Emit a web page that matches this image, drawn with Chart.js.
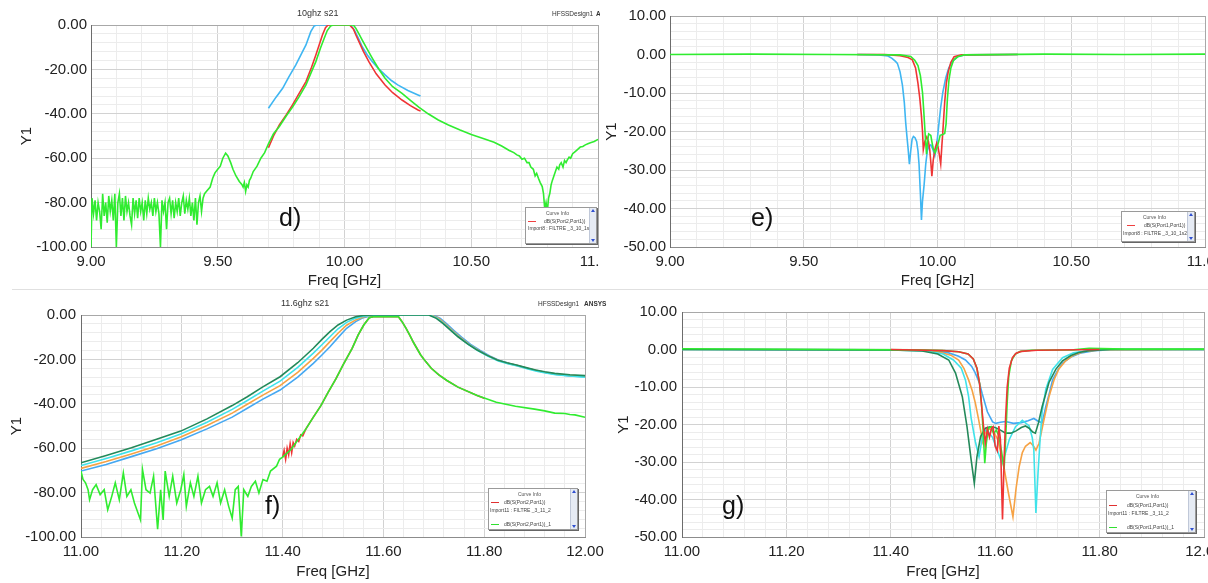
<!DOCTYPE html>
<html><head><meta charset="utf-8">
<script src="https://cdn.jsdelivr.net/npm/chart.js@4.4.1/dist/chart.umd.min.js"></script>
<style>
html,body{margin:0;padding:0;background:#fff;width:1208px;height:583px;overflow:hidden;font-family:"Liberation Sans",Arial,sans-serif;}
.panel{position:absolute;overflow:hidden;}
.panel canvas{position:absolute;left:0;top:0;}
.t{position:absolute;white-space:nowrap;color:#333;}
.lab{position:absolute;font-size:25px;line-height:25px;color:#111;}
.sep{position:absolute;left:12px;top:289px;width:1196px;height:1px;background:#e0e0e0;}
.leg{position:absolute;background:#fff;border:1px solid #9a9a9a;box-shadow:1px 1px 0 #666;}
.leg .tt{position:absolute;left:0;right:7px;text-align:center;font-size:5px;line-height:5px;color:#555;}
.leg .tx{position:absolute;font-size:5px;line-height:5px;color:#444;white-space:nowrap;}
.leg .ln{position:absolute;height:1px;width:8px;}
.leg .sb{position:absolute;right:0;top:0;bottom:0;width:6px;background:#e6ebf4;border-left:1px solid #c0c8d8;}
.sb .a1,.sb .a2{position:absolute;left:1px;width:0;height:0;border-left:2px solid transparent;border-right:2px solid transparent;}
.sb .a1{top:1px;border-bottom:3px solid #3050d0;}
.sb .a2{bottom:1px;border-top:3px solid #3050d0;}
</style></head>
<body>
<div class="sep"></div>
<div class="panel" style="left:0;top:0;width:600px;height:290px;">
  <canvas id="cd" width="600" height="290"></canvas>
  <div class="t" style="left:297px;top:8px;font-size:9px;line-height:10px;">10ghz s21</div>
  <div class="t" style="left:552px;top:10px;font-size:6.5px;line-height:7px;">HFSSDesign1</div>
  <div class="t" style="left:596px;top:10px;font-size:6.5px;line-height:7px;font-weight:bold;">ANSYS</div>
  <div class="lab" style="left:279px;top:205px;">d)</div>
</div>
<div class="panel" style="left:600px;top:0;width:608px;height:290px;">
  <canvas id="ce" width="608" height="290"></canvas>
  <div class="lab" style="left:151px;top:205px;">e)</div>
</div>
<div class="panel" style="left:0;top:290px;width:608px;height:293px;">
  <canvas id="cf" width="608" height="293"></canvas>
  <div class="t" style="left:281px;top:8px;font-size:9px;line-height:10px;">11.6ghz s21</div>
  <div class="t" style="left:538px;top:10px;font-size:6.5px;line-height:7px;">HFSSDesign1</div>
  <div class="t" style="left:584px;top:10px;font-size:6.5px;line-height:7px;font-weight:bold;">ANSYS</div>
  <div class="lab" style="left:265px;top:203px;">f)</div>
</div>
<div class="panel" style="left:600px;top:290px;width:608px;height:293px;">
  <canvas id="cg" width="608" height="293"></canvas>
  <div class="lab" style="left:122px;top:203px;">g)</div>
</div>

<div class="leg" style="left:525px;top:207px;width:70px;height:35px;">
  <div class="tt" style="top:3px;">Curve Info</div>
  <div class="ln" style="left:2px;top:13px;background:#f04040;"></div>
  <div class="tx" style="left:18px;top:11px;">dB(S(Port2,Port1))</div>
  <div class="tx" style="left:2px;top:18px;">Import8 : FILTRE _3_10_1s2p</div>
  <div class="sb"><div class="a1"></div><div class="a2"></div></div>
</div>
<div class="leg" style="left:1121px;top:211px;width:72px;height:29px;">
  <div class="tt" style="top:3px;">Curve Info</div>
  <div class="ln" style="left:5px;top:13px;background:#f04040;"></div>
  <div class="tx" style="left:22px;top:11px;">dB(S(Port1,Port1))</div>
  <div class="tx" style="left:1px;top:19px;">Import8 : FILTRE _3_10_1s2p</div>
  <div class="sb"><div class="a1"></div><div class="a2"></div></div>
</div>
<div class="leg" style="left:488px;top:488px;width:88px;height:40px;">
  <div class="tt" style="top:3px;">Curve Info</div>
  <div class="ln" style="left:2px;top:13px;background:#e03030;"></div>
  <div class="tx" style="left:15px;top:11px;">dB(S(Port2,Port1))</div>
  <div class="tx" style="left:1px;top:19px;">Import11 : FILTRE _3_11_2</div>
  <div class="ln" style="left:2px;top:35px;background:#30e030;"></div>
  <div class="tx" style="left:15px;top:33px;">dB(S(Port2,Port1))_1</div>
  <div class="sb"><div class="a1"></div><div class="a2"></div></div>
</div>
<div class="leg" style="left:1106px;top:490px;width:88px;height:41px;">
  <div class="tt" style="top:3px;">Curve Info</div>
  <div class="ln" style="left:2px;top:14px;background:#e03030;"></div>
  <div class="tx" style="left:20px;top:12px;">dB(S(Port1,Port1))</div>
  <div class="tx" style="left:1px;top:20px;">Import11 : FILTRE _3_11_2</div>
  <div class="ln" style="left:2px;top:36px;background:#30e030;"></div>
  <div class="tx" style="left:20px;top:34px;">dB(S(Port1,Port1))_1</div>
  <div class="sb"><div class="a1"></div><div class="a2"></div></div>
</div>

<script>
// ---------- Panel d: 10 GHz S21 ----------
const dBlue = [[9.70,-37.5],[9.73,-32.5],[9.756,-28.5],[9.78,-23.5],[9.808,-18],[9.83,-13],[9.848,-9],[9.867,-3],[9.88,-0.5],[9.89,0],[10.0,0],[10.024,0],[10.04,-2.5],[10.055,-6],[10.07,-9.8],[10.09,-13.5],[10.11,-16.5],[10.135,-19.8],[10.16,-22.5],[10.185,-25],[10.21,-27],[10.25,-29.5],[10.29,-31.5],[10.30,-32]];
const dRed = [[9.70,-55.3],[9.72,-50],[9.743,-45],[9.77,-40.5],[9.795,-36],[9.82,-31],[9.848,-25.5],[9.87,-19],[9.887,-13.5],[9.90,-9],[9.913,-4.5],[9.925,-1.2],[9.935,0],[10.02,0],[10.035,-1.8],[10.045,-4.5],[10.057,-7.5],[10.075,-12],[10.096,-16.5],[10.125,-22],[10.16,-27],[10.19,-30.5],[10.227,-33.8],[10.26,-36.3],[10.29,-38.3],[10.30,-38.7]];
const dGreenNoise = [[9.000,-100],[9.004,-78],[9.010,-85],[9.016,-79],[9.022,-88],[9.028,-80],[9.034,-84],[9.040,-92],[9.046,-76],[9.052,-86],[9.058,-80],[9.064,-89],[9.070,-77],[9.076,-84],[9.082,-79],[9.088,-88],[9.094,-76],[9.100,-100],[9.106,-80],[9.112,-76],[9.118,-86],[9.124,-78],[9.130,-88],[9.136,-77],[9.142,-84],[9.148,-80],[9.154,-86],[9.160,-90],[9.166,-78],[9.172,-85],[9.178,-79],[9.184,-87],[9.190,-78],[9.196,-84],[9.202,-80],[9.208,-88],[9.214,-79],[9.220,-85],[9.226,-78],[9.232,-83],[9.238,-80],[9.244,-86],[9.250,-78],[9.256,-84],[9.262,-80],[9.268,-85],[9.274,-100],[9.280,-79],[9.286,-84],[9.292,-80],[9.298,-92],[9.304,-80],[9.310,-78],[9.316,-85],[9.322,-79],[9.328,-87],[9.334,-80],[9.340,-84],[9.346,-78],[9.352,-86],[9.358,-80],[9.364,-77],[9.370,-85],[9.376,-79],[9.382,-83],[9.388,-78],[9.394,-86],[9.400,-80],[9.406,-88],[9.412,-78],[9.418,-90],[9.424,-80],[9.430,-77],[9.436,-84],[9.442,-78],[9.448,-76]];
const dGreenMain = [[9.455,-75],[9.47,-73],[9.48,-69],[9.489,-66.6],[9.50,-65],[9.51,-63.6],[9.52,-60],[9.531,-57.7],[9.54,-59],[9.551,-62],[9.56,-65],[9.572,-68],[9.585,-70.5],[9.595,-71.8],[9.60,-73],[9.605,-71],[9.61,-75],[9.615,-72],[9.62,-73],[9.625,-70],[9.63,-69],[9.64,-66],[9.655,-63.6],[9.67,-60],[9.685,-57.5],[9.70,-53.5],[9.72,-49],[9.743,-45.7],[9.77,-41],[9.795,-37],[9.82,-32.5],[9.848,-27],[9.87,-21],[9.887,-16.5],[9.905,-10.5],[9.92,-6],[9.932,-2.5],[9.945,-0.5],[9.955,0],[10.035,0],[10.045,-1.5],[10.057,-4],[10.07,-6.8],[10.09,-11],[10.11,-15],[10.135,-19.8],[10.16,-24],[10.19,-27.8],[10.227,-30.8],[10.26,-34],[10.293,-37],[10.33,-40],[10.37,-42.8],[10.41,-45],[10.456,-47.3],[10.50,-49.3],[10.55,-51.2],[10.59,-52.8],[10.62,-54.5],[10.65,-56.5],[10.668,-57.5],[10.68,-58.5],[10.69,-59],[10.70,-60.5],[10.71,-60],[10.72,-62],[10.728,-62],[10.735,-64],[10.745,-65],[10.752,-68],[10.758,-66.8],[10.765,-69],[10.772,-71],[10.78,-72.8],[10.785,-76],[10.79,-83],[10.795,-80],[10.80,-84],[10.805,-78],[10.81,-75.8],[10.815,-72],[10.82,-70],[10.826,-68],[10.832,-66],[10.838,-64],[10.845,-65],[10.849,-63],[10.855,-62],[10.862,-64],[10.868,-61],[10.874,-62],[10.878,-61],[10.886,-59.5],[10.892,-60],[10.90,-58],[10.91,-57],[10.92,-56],[10.93,-55],[10.94,-54.7],[10.95,-54],[10.96,-53.5],[10.97,-53],[10.985,-52.5],[11.0,-51.5]];

// ---------- Panel e: 10 GHz S11 ----------
const eBlue = [[9.70,0],[9.78,-0.1],[9.815,-0.4],[9.83,-1],[9.843,-1.8],[9.85,-2.3],[9.86,-4.5],[9.869,-8],[9.876,-12.5],[9.881,-17.6],[9.886,-21.5],[9.890,-24.4],[9.895,-28.5],[9.900,-25],[9.905,-22],[9.910,-21.3],[9.916,-21.6],[9.922,-22.6],[9.927,-25],[9.931,-28.5],[9.936,-36],[9.940,-43],[9.944,-38],[9.950,-33.8],[9.956,-28.5],[9.962,-25],[9.968,-23.8],[9.975,-23.5],[9.982,-24.5],[9.990,-26.3],[9.995,-24.5],[10.0,-21.5],[10.006,-17.5],[10.012,-13.7],[10.02,-9.8],[10.031,-6],[10.042,-3.5],[10.056,-1.7],[10.075,-0.6],[10.10,-0.1],[10.30,0]];
const eRed = [[9.70,0],[9.80,0],[9.86,-0.3],[9.89,-0.8],[9.906,-1.4],[9.918,-3.5],[9.927,-7.5],[9.934,-11.5],[9.940,-16],[9.944,-20],[9.947,-24.7],[9.953,-22.5],[9.960,-21.4],[9.966,-22.5],[9.971,-24.7],[9.975,-28],[9.979,-31.6],[9.984,-27.5],[9.990,-24.7],[9.997,-23],[10.002,-24],[10.006,-25.6],[10.012,-28.4],[10.016,-24],[10.019,-21],[10.027,-12.3],[10.033,-7.5],[10.040,-4.5],[10.05,-2],[10.062,-0.6],[10.09,-0.1],[10.30,0]];
const eGreen = [[9.0,0],[9.3,0.1],[9.6,0],[9.86,-0.1],[9.90,-0.5],[9.915,-1.5],[9.927,-2.9],[9.936,-5.5],[9.944,-9.9],[9.948,-14],[9.952,-18.5],[9.955,-22],[9.959,-25.9],[9.963,-22.5],[9.967,-20.6],[9.975,-21],[9.980,-23],[9.985,-24.7],[9.991,-25.5],[10.0,-23.8],[10.010,-21],[10.019,-20.8],[10.027,-20.5],[10.032,-18],[10.037,-11.5],[10.043,-6.5],[10.05,-3.5],[10.06,-1.5],[10.075,-0.6],[10.10,-0.1],[10.4,0.1],[10.7,0],[11.0,0.1]];

// ---------- Panel f: 11.6 GHz S21 ----------
const fDarkGreen = [[11.0,-66.6],[11.05,-63.3],[11.10,-59.8],[11.15,-56],[11.198,-52.3],[11.25,-46.8],[11.30,-40.8],[11.33,-36.8],[11.36,-32.5],[11.395,-27.8],[11.43,-21.5],[11.461,-15],[11.478,-11],[11.494,-7.5],[11.51,-4.5],[11.527,-2.3],[11.545,-0.8],[11.56,-0.2],[11.58,0],[11.69,0],[11.705,-1.5],[11.718,-3.8],[11.733,-6.8],[11.748,-9.8],[11.767,-13],[11.786,-15.8],[11.806,-18.2],[11.826,-20.3],[11.845,-21.5],[11.864,-22.5],[11.883,-23.7],[11.902,-24.8],[11.92,-25.6],[11.94,-26.3],[11.97,-26.9],[12.0,-27.3]];
const fCyan = [[11.0,-67.8],[11.05,-64.6],[11.10,-61.2],[11.15,-57.5],[11.198,-53.6],[11.25,-48.3],[11.30,-42.5],[11.33,-38.5],[11.36,-34.4],[11.395,-29.8],[11.43,-23.6],[11.461,-17.2],[11.478,-13.4],[11.494,-9.8],[11.51,-6.2],[11.527,-3.3],[11.545,-1.4],[11.56,-0.5],[11.59,0],[11.692,0],[11.707,-1.5],[11.72,-3.9],[11.735,-7],[11.75,-10],[11.769,-13.3],[11.788,-16.1],[11.808,-18.6],[11.828,-20.7],[11.847,-22],[11.866,-23],[11.885,-24.2],[11.904,-25.3],[11.922,-26.1],[11.942,-26.9],[11.97,-27.5],[12.0,-28]];
const fOrange = [[11.0,-69.1],[11.05,-66],[11.10,-62.6],[11.15,-59],[11.198,-55],[11.25,-49.8],[11.30,-44.2],[11.33,-40.2],[11.36,-36.2],[11.395,-31.8],[11.43,-25.8],[11.461,-19.5],[11.478,-15.8],[11.494,-12],[11.51,-8.2],[11.527,-4.6],[11.545,-2.2],[11.56,-0.9],[11.575,-0.2],[11.60,0],[11.695,0],[11.71,-1.6],[11.722,-3.9],[11.737,-7],[11.752,-10],[11.77,-13.2],[11.789,-16],[11.808,-18.4],[11.828,-20.5],[11.847,-21.8],[11.866,-22.8],[11.885,-24],[11.904,-25],[11.922,-25.9],[11.942,-26.6],[11.97,-27.2],[12.0,-27.6]];
const fBlue = [[11.0,-70.3],[11.05,-67.3],[11.10,-63.8],[11.15,-60.3],[11.198,-56.3],[11.25,-51.3],[11.30,-46],[11.33,-42],[11.36,-38],[11.395,-33.8],[11.43,-28],[11.461,-21.8],[11.478,-18],[11.494,-14.3],[11.51,-10.2],[11.527,-6],[11.545,-3],[11.56,-1.2],[11.575,-0.4],[11.60,0],[11.698,0],[11.713,-1.6],[11.725,-3.9],[11.74,-7],[11.755,-10],[11.773,-13.2],[11.792,-16],[11.811,-18.4],[11.83,-20.5],[11.85,-21.9],[11.868,-22.9],[11.887,-24.1],[11.906,-25.1],[11.924,-26],[11.944,-26.8],[11.97,-27.4],[12.0,-27.8]];
const fRed = [[11.40,-64],[11.403,-61],[11.406,-65],[11.409,-60],[11.412,-63],[11.415,-58],[11.418,-62],[11.421,-57.5],[11.424,-59],[11.428,-56],[11.432,-57],[11.436,-54],[11.44,-54.5],[11.446,-51.4],[11.461,-46],[11.476,-40.8],[11.49,-35],[11.506,-28.7],[11.52,-22.5],[11.538,-15],[11.55,-9],[11.561,-4.5],[11.572,-1.2],[11.58,-0.8],[11.63,-0.8],[11.637,-3],[11.645,-6],[11.652,-9],[11.66,-12.5],[11.674,-18],[11.684,-21],[11.695,-24],[11.71,-27],[11.726,-29.5],[11.748,-32.5],[11.786,-36.3],[11.80,-37.5]];
const fGreenNoise = [[11.000,-70.3],[11.004,-74.1],[11.009,-75.6],[11.014,-78.7],[11.017,-83.2],[11.023,-78.7],[11.030,-76.4],[11.038,-80.9],[11.046,-78.7],[11.053,-87.7],[11.061,-81.7],[11.068,-75.6],[11.076,-83.2],[11.084,-71.1],[11.091,-81.7],[11.099,-78.7],[11.106,-84.7],[11.118,-92.3],[11.122,-69.6],[11.129,-78.7],[11.137,-80.2],[11.144,-72.6],[11.152,-96.5],[11.158,-78.7],[11.163,-92.3],[11.167,-70.3],[11.175,-81.7],[11.182,-72.6],[11.190,-84.7],[11.198,-78.7],[11.204,-71.9],[11.209,-86.2],[11.217,-75.6],[11.224,-81.7],[11.232,-72.6],[11.239,-84.7],[11.247,-78.7],[11.255,-77.2],[11.262,-81.7],[11.270,-75.6],[11.277,-84.7],[11.285,-78.7],[11.293,-86.2],[11.300,-91.5],[11.306,-78.7],[11.312,-77.2],[11.318,-99.8],[11.323,-78.7],[11.331,-81.7],[11.338,-77.2],[11.346,-74.9],[11.353,-80.2],[11.361,-74.1],[11.369,-74.9],[11.376,-70.3],[11.388,-68.1]];
const fGreenMain = [[11.394,-65],[11.40,-64],[11.417,-60.5],[11.446,-51.4],[11.461,-46],[11.476,-40.8],[11.49,-35],[11.506,-28.7],[11.52,-22.5],[11.538,-15],[11.55,-9],[11.561,-4.5],[11.572,-1.2],[11.58,-0.8],[11.63,-0.8],[11.637,-3],[11.645,-6],[11.652,-9],[11.66,-12.5],[11.674,-18],[11.684,-21],[11.695,-24],[11.71,-27],[11.726,-29.5],[11.748,-32.5],[11.786,-36.3],[11.824,-39.3],[11.862,-41.1],[11.90,-42.4],[11.92,-43.2],[11.94,-44.2],[11.96,-44.4],[11.97,-44.8],[11.98,-45],[12.0,-46.1]];

// ---------- Panel g: 11.6 GHz S11 ----------
const gDarkGreen = [[11.0,0],[11.40,-0.1],[11.46,-0.4],[11.49,-1.2],[11.511,-2.8],[11.524,-6.3],[11.537,-12.6],[11.546,-20.6],[11.554,-29.5],[11.56,-35.7],[11.565,-28.6],[11.572,-23.2],[11.581,-21],[11.59,-20.6],[11.60,-20.8],[11.61,-21.5],[11.62,-22.3],[11.63,-22.3],[11.64,-21.7],[11.65,-20.8],[11.658,-20.4],[11.665,-21],[11.672,-22],[11.677,-22.3],[11.683,-19.5],[11.69,-15.2],[11.703,-8.8],[11.716,-5.3],[11.729,-3],[11.745,-1.6],[11.76,-0.8],[11.78,-0.3],[11.82,0],[12.0,0]];
const gCyan = [[11.0,0],[11.40,-0.1],[11.47,-0.4],[11.50,-1.2],[11.52,-2.8],[11.535,-5],[11.543,-8.1],[11.549,-12.5],[11.554,-18.4],[11.562,-24.6],[11.569,-28.6],[11.574,-24.5],[11.579,-21.5],[11.587,-22],[11.595,-23.5],[11.603,-26.5],[11.613,-30.3],[11.62,-27.5],[11.627,-24],[11.639,-20.6],[11.652,-18.9],[11.665,-20.4],[11.671,-23.5],[11.674,-26.8],[11.678,-43.6],[11.682,-33],[11.686,-24],[11.69,-16.5],[11.697,-10.6],[11.71,-5.3],[11.729,-2.2],[11.75,-0.9],[11.78,-0.2],[11.82,0],[12.0,0]];
const gOrange = [[11.0,0],[11.45,-0.1],[11.49,-0.6],[11.515,-1.5],[11.53,-2.8],[11.54,-5],[11.549,-8.1],[11.556,-11],[11.562,-14.3],[11.568,-18.5],[11.572,-21.5],[11.576,-24.6],[11.58,-22.5],[11.585,-21],[11.595,-21.5],[11.605,-24],[11.615,-30],[11.625,-38],[11.634,-44.6],[11.64,-37],[11.646,-31.2],[11.652,-27.5],[11.658,-25.8],[11.667,-24.8],[11.672,-25.5],[11.678,-26.8],[11.684,-25],[11.693,-19],[11.703,-12.6],[11.713,-8],[11.722,-5.2],[11.735,-3],[11.75,-1.5],[11.77,-0.5],[11.80,-0.1],[12.0,0]];
const gBlue = [[11.0,0],[11.45,-0.1],[11.49,-0.5],[11.511,-0.9],[11.53,-1.8],[11.543,-2.8],[11.555,-4.5],[11.562,-6.3],[11.57,-9],[11.575,-11.7],[11.585,-16.6],[11.595,-19.3],[11.601,-19.7],[11.61,-19.4],[11.62,-19.2],[11.635,-19.7],[11.65,-19.5],[11.663,-19],[11.674,-18.4],[11.683,-19.2],[11.69,-19.5],[11.697,-15.2],[11.704,-11.5],[11.71,-8.1],[11.72,-5.5],[11.729,-3.6],[11.745,-2],[11.765,-0.9],[11.79,-0.3],[11.83,0],[12.0,0]];
const gRed = [[11.40,0],[11.50,-0.3],[11.53,-0.6],[11.548,-1.2],[11.558,-2.5],[11.565,-5],[11.57,-9],[11.574,-15],[11.578,-21],[11.581,-25],[11.585,-21.2],[11.589,-23.4],[11.593,-21],[11.596,-20.6],[11.600,-25.8],[11.604,-27],[11.607,-20.4],[11.610,-24],[11.614,-45.3],[11.617,-30],[11.620,-18],[11.623,-10],[11.627,-5],[11.633,-2.2],[11.64,-1],[11.65,-0.5],[11.68,-0.2],[11.80,0]];
const gGreen = [[11.0,0.2],[11.30,0],[11.45,-0.1],[11.50,-0.3],[11.53,-0.6],[11.548,-1.2],[11.558,-2.5],[11.565,-5],[11.57,-9],[11.574,-15],[11.577,-22],[11.58,-30.3],[11.583,-25],[11.587,-21],[11.592,-20.6],[11.597,-22.5],[11.602,-21.5],[11.607,-23],[11.612,-27],[11.617,-32],[11.62,-24],[11.623,-14],[11.626,-7],[11.631,-3],[11.638,-1.3],[11.648,-0.5],[11.67,-0.2],[11.75,-0.1],[11.78,0.3],[11.85,0.1],[12.0,0.1]];

// ---------- axes ----------
const dfRangeX = [9, 11], dfStepX = [0.1, 0.5];
const fgRangeX = [11, 12], fgStepX = [0.04, 0.2];
const s21RangeY = [-100, 0], s21StepY = [4, 20];
const s11RangeY = [-50, 10], s11StepY = [2, 10];

const FONT = '"Liberation Sans", Arial, sans-serif';
const C = {blue:'#3fb6f2', red:'#ef3535', green:'#30ec30', dg:'#23895a', cyan:'#3fe3ea', orange:'#f6a244', blue2:'#45a8f2'};

function pts(a){ return a.map(p => ({x:p[0], y:p[1]})); }
function ds(a, color, w){ return {data: pts(a), borderColor: color, backgroundColor: color, borderWidth: w || 1.6, showLine: true, pointRadius: 0, fill: false, tension: 0}; }
function isMult(v, m){ const r = v / m; return Math.abs(r - Math.round(r)) < 1e-6; }
function fmt(v){ return Math.abs(v) < 1e-9 ? '0.00' : v.toFixed(2); }
function gridCol(v, major, max){
  if (Math.abs(v - max) < 1e-9) return '#a8a8a8';
  return isMult(v, major) ? '#d2d2d2' : '#ececec';
}

function makeChart(id, c){
  return new Chart(document.getElementById(id), {
    type: 'scatter',
    data: { datasets: c.datasets },
    options: {
      responsive: false, animation: false, devicePixelRatio: 1,
      layout: { padding: { top: c.padTop, right: c.padRight, left: 0, bottom: 0 } },
      plugins: { legend: { display: false }, tooltip: { enabled: false } },
      scales: {
        x: {
          type: 'linear', min: c.rx[0], max: c.rx[1],
          ticks: { stepSize: c.sx[0], autoSkip: false, maxRotation: 0, minRotation: 0, padding: c.xTickPad, color: '#222',
                   font: { family: FONT, size: 15 }, callback: v => isMult(v, c.sx[1]) ? fmt(v) : '' },
          grid: { drawTicks: false, lineWidth: 1, color: ctx => gridCol(ctx.tick.value, c.sx[1], c.rx[1]) },
          border: { display: true, color: '#8c8c8c' },
          title: { display: true, text: 'Freq [GHz]', color: '#222', font: { family: FONT, size: 15 }, padding: { top: 0, bottom: c.xTitlePad } },
          afterFit: s => { s.height = c.xH; s.paddingLeft = 0; s.paddingRight = 0; }
        },
        y: {
          type: 'linear', min: c.ry[0], max: c.ry[1],
          ticks: { stepSize: c.sy[0], autoSkip: false, padding: c.yTickPad, color: '#222',
                   font: { family: FONT, size: 15 }, callback: v => isMult(v, c.sy[1]) ? fmt(v) : '' },
          grid: { drawTicks: false, lineWidth: 1, color: ctx => gridCol(ctx.tick.value, c.sy[1], c.ry[1]) },
          border: { display: true, color: '#6c6c6c' },
          title: { display: true, text: 'Y1', color: '#222', font: { family: FONT, size: 15 }, padding: { top: c.yTitlePad, bottom: 0 } },
          afterFit: s => { s.width = c.yW; s.paddingTop = 0; s.paddingBottom = 0; }
        }
      }
    }
  });
}

makeChart('cd', { rx: dfRangeX, sx: dfStepX, ry: s21RangeY, sy: s21StepY, padTop: 25, padRight: 2, yW: 91, xH: 43,
  xTickPad: 6, xTitlePad: 0, yTickPad: 4, yTitlePad: 18,
  datasets: [ ds(dGreenNoise.concat(dGreenMain), C.green), ds(dRed, C.red), ds(dBlue, C.blue) ] });

makeChart('ce', { rx: dfRangeX, sx: dfStepX, ry: s11RangeY, sy: s11StepY, padTop: 16, padRight: 3, yW: 70, xH: 43,
  xTickPad: 6, xTitlePad: 0, yTickPad: 4, yTitlePad: 3,
  datasets: [ ds(eGreen, C.green), ds(eRed, C.red), ds(eBlue, C.blue) ] });

makeChart('cf', { rx: fgRangeX, sx: fgStepX, ry: s21RangeY, sy: s21StepY, padTop: 25, padRight: 23, yW: 81, xH: 46,
  xTickPad: 6, xTitlePad: 2, yTickPad: 5, yTitlePad: 8,
  datasets: [ ds(fGreenNoise.concat(fGreenMain), C.green), ds(fRed, C.red), ds(fDarkGreen, C.dg), ds(fCyan, C.cyan), ds(fOrange, C.orange), ds(fBlue, C.blue2) ] });

makeChart('cg', { rx: fgRangeX, sx: fgStepX, ry: s11RangeY, sy: s11StepY, padTop: 22, padRight: 4, yW: 82, xH: 46,
  xTickPad: 6, xTitlePad: 2, yTickPad: 5, yTitlePad: 15,
  datasets: [ ds(gRed, C.red), ds(gGreen, C.green), ds(gDarkGreen, C.dg), ds(gCyan, C.cyan), ds(gOrange, C.orange), ds(gBlue, C.blue2) ] });
</script>
</body></html>
